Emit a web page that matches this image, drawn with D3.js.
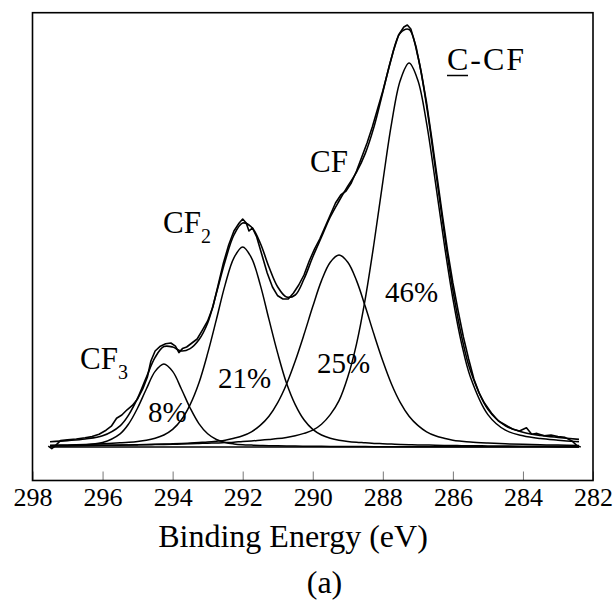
<!DOCTYPE html>
<html>
<head>
<meta charset="utf-8">
<script src="https://cdn.jsdelivr.net/npm/d3@7"></script>
<style>
body { margin: 0; background: #fff; }
text { font-family: "Liberation Serif", "Times New Roman", serif; fill: #000; }
</style>
</head>
<body>
<svg id="chart" width="615" height="601"></svg>
<script>
// binding energy grid (eV) used for the fitted curves
var energy = [297.5, 297.0, 296.5, 296.0, 295.5, 295.25, 295.0, 294.75, 294.5, 294.25, 294.0, 293.75, 293.5, 293.25, 293.0, 292.75, 292.5, 292.25, 292.0, 291.75, 291.5, 291.25, 291.0, 290.75, 290.5, 290.25, 290.0, 289.75, 289.5, 289.25, 289.0, 288.75, 288.5, 288.25, 288.0, 287.75, 287.5, 287.25, 287.0, 286.75, 286.5, 286.25, 286.0, 285.75, 285.5, 285.0, 284.5, 284.0, 283.5, 283.0, 282.4];

// fitted components (arb. units above background)
var compCCF = [0.32, 0.34, 0.37, 0.41, 0.46, 0.5, 0.53, 0.56, 0.6, 0.64, 0.69, 0.74, 0.79, 0.87, 0.96, 1.0, 1.1, 1.2, 1.4, 1.5, 1.7, 1.9, 2.1, 2.4, 2.8, 3.4, 4.2, 5.7, 8.1, 11.6, 17.5, 25.8, 37.1, 51.0, 66.3, 80.9, 91.7, 96.0, 91.7, 80.9, 66.3, 51.0, 37.1, 25.8, 17.5, 8.1, 4.2, 2.8, 2.1, 1.7, 1.3];
var compCF = [0.27, 0.31, 0.36, 0.41, 0.48, 0.51, 0.55, 0.62, 0.68, 0.74, 0.8, 0.88, 1.0, 1.13, 1.25, 1.45, 1.7, 2.2, 2.8, 3.8, 5.4, 7.7, 11.1, 15.7, 21.5, 28.1, 35.1, 41.6, 46.2, 48.0, 46.2, 41.6, 35.1, 28.1, 21.5, 15.7, 11.1, 7.7, 5.4, 3.8, 2.8, 2.2, 1.7, 1.45, 1.25, 1.0, 0.8, 0.68, 0.55, 0.48, 0.4];
var compCF2 = [0.45, 0.53, 0.65, 0.82, 1.06, 1.2, 1.4, 1.7, 2.2, 3.0, 4.4, 6.8, 10.6, 16.0, 23.4, 31.9, 40.6, 47.3, 50.0, 47.3, 40.6, 31.9, 23.4, 16.0, 10.6, 6.8, 4.4, 3.0, 2.2, 1.7, 1.4, 1.2, 1.06, 0.9, 0.82, 0.73, 0.65, 0.58, 0.53, 0.49, 0.45, 0.4, 0.37, 0.34, 0.32, 0.27, 0.24, 0.21, 0.19, 0.17, 0.15];
var compCF3 = [0.3, 0.4, 0.58, 1.12, 3.3, 5.85, 9.75, 14.5, 18.9, 20.75, 18.9, 14.5, 9.75, 5.85, 3.3, 1.87, 1.12, 0.77, 0.58, 0.48, 0.4, 0.34, 0.3, 0.25, 0.22, 0.2, 0.17, 0.16, 0.14, 0.12, 0.11, 0.1, 0.1, 0.09, 0.09, 0.08, 0.08, 0.07, 0.07, 0.07, 0.06, 0.06, 0.06, 0.05, 0.05, 0.05, 0.04, 0.04, 0.04, 0.03, 0.03];
var envelope = [1.3, 1.6, 2.0, 2.8, 5.3, 8.1, 12.2, 17.4, 22.4, 25.1, 25.0, 24.0, 24.6, 26.8, 31.0, 38.5, 46.5, 53.0, 56.0, 55.0, 51.0, 45.0, 40.0, 37.5, 38.0, 42.0, 47.5, 52.5, 57.5, 61.5, 65.2, 68.7, 73.4, 80.1, 88.7, 97.4, 103.5, 104.4, 97.7, 85.3, 69.6, 53.7, 39.2, 27.6, 19.1, 9.4, 5.3, 3.7, 2.9, 2.4, 1.9];

// measured spectrum
var measuredE = [297.55, 297.45, 297.35, 297.2, 297.0, 296.75, 296.5, 296.3, 296.1, 295.9, 295.75, 295.6, 295.45, 295.3, 295.15, 295.0, 294.85, 294.72, 294.62, 294.5, 294.35, 294.2, 294.05, 293.92, 293.82, 293.72, 293.6, 293.45, 293.3, 293.15, 293.0, 292.85, 292.7, 292.55, 292.4, 292.25, 292.1, 292.0, 291.9, 291.82, 291.72, 291.6, 291.45, 291.3, 291.15, 291.0, 290.85, 290.7, 290.55, 290.4, 290.25, 290.1, 289.95, 289.8, 289.65, 289.5, 289.35, 289.2, 289.05, 288.9, 288.75, 288.6, 288.45, 288.3, 288.15, 288.0, 287.85, 287.7, 287.55, 287.4, 287.3, 287.2, 287.05, 286.9, 286.75, 286.6, 286.45, 286.3, 286.15, 286.0, 285.85, 285.7, 285.55, 285.4, 285.25, 285.1, 284.9, 284.7, 284.5, 284.3, 284.1, 283.9, 283.75, 283.6, 283.4, 283.2, 283.0, 282.8, 282.6, 282.45, 282.35];
var measuredI = [0.2, -0.4, 0.3, 1.6, 1.8, 2.0, 2.3, 2.6, 3.2, 4.2, 5.2, 7.2, 8.0, 9.3, 10.4, 12.0, 14.6, 17.5, 21.5, 24.0, 25.2, 25.8, 26.0, 25.2, 23.6, 24.6, 25.0, 26.0, 27.0, 29.2, 31.5, 35.0, 40.5, 46.0, 50.5, 54.0, 56.0, 57.0, 56.0, 54.0, 54.8, 52.5, 48.0, 43.5, 40.0, 37.8, 37.0, 37.0, 38.5, 40.5, 43.0, 46.5, 49.5, 52.0, 55.0, 58.0, 61.0, 63.0, 64.0, 66.0, 69.0, 72.5, 76.0, 80.0, 84.5, 89.0, 94.0, 99.0, 103.0, 105.0, 105.5, 104.5, 100.0, 93.5, 86.0, 77.0, 67.5, 58.0, 49.0, 41.0, 34.0, 27.5, 22.0, 17.0, 13.5, 11.0, 8.5, 6.5, 5.5, 4.5, 4.0, 4.8, 3.2, 3.4, 2.8, 3.0, 2.6, 2.4, 1.5, 0.3, 0.0];

var baselineE = [297.5, 282.4];
var baselineI = [0, 0];

var xTicks = [298, 296, 294, 292, 290, 288, 286, 284, 282];

var svg = d3.select("#chart");

var x = d3.scaleLinear().domain([298, 282]).range([32.5, 593]);
var y = d3.scaleLinear().domain([-8.375, 108.575]).range([480.5, 12.7]);

function pairs(xs, ys) {
    return xs.map(function(e, i) { return [e, ys[i]]; });
}

var smooth = d3.line()
    .x(function(d) { return x(d[0]); })
    .y(function(d) { return y(d[1]); })
    .curve(d3.curveCatmullRom.alpha(0.5));

var raw = d3.line()
    .x(function(d) { return x(d[0]); })
    .y(function(d) { return y(d[1]); });

// components
[compCF3, compCF2, compCF, compCCF].forEach(function(c) {
    svg.append("path")
        .attr("d", smooth(pairs(energy, c)))
        .attr("fill", "none")
        .attr("stroke", "#000")
        .attr("stroke-width", 1.5);
});

svg.append("path")
    .attr("d", raw(pairs(baselineE, baselineI)))
    .attr("fill", "none")
    .attr("stroke", "#000")
    .attr("stroke-width", 1.5);

svg.append("path")
    .attr("d", smooth(pairs(energy, envelope)))
    .attr("fill", "none")
    .attr("stroke", "#000")
    .attr("stroke-width", 1.6);

svg.append("path")
    .attr("d", raw(pairs(measuredE, measuredI)))
    .attr("fill", "none")
    .attr("stroke", "#000")
    .attr("stroke-width", 1.6)
    .attr("stroke-linejoin", "round");

// x axis: inward ticks, labels below
var xAxis = d3.axisBottom(x)
    .tickValues(xTicks)
    .tickSize(-9)
    .tickPadding(7)
    .tickFormat(d3.format("d"));

var gx = svg.append("g")
    .attr("transform", "translate(0," + y.range()[0] + ")")
    .call(xAxis);
gx.select(".domain").remove();
gx.selectAll(".tick line").attr("stroke", "#777").attr("stroke-width", 1);
gx.selectAll(".tick text")
    .style("font-family", '"Liberation Serif", "Times New Roman", serif')
    .style("font-size", "26px")
    .attr("fill", "#000");

// frame
svg.append("rect")
    .attr("x", x.range()[0])
    .attr("y", y.range()[1])
    .attr("width", x.range()[1] - x.range()[0])
    .attr("height", y.range()[0] - y.range()[1])
    .attr("fill", "none")
    .attr("stroke", "#000")
    .attr("stroke-width", 1.6);

svg.append("text")
    .attr("x", 293).attr("y", 547)
    .attr("text-anchor", "middle")
    .style("font-size", "32px")
    .text("Binding Energy (eV)");

svg.append("text")
    .attr("x", 324.5).attr("y", 593)
    .attr("text-anchor", "middle")
    .style("font-size", "32px")
    .text("(a)");

// peak labels
function label(tx, ty, main, sub, size) {
    var t = svg.append("text").attr("x", tx).attr("y", ty).style("font-size", size + "px");
    t.append("tspan").text(main);
    if (sub) {
        t.append("tspan").attr("dy", 10).style("font-size", "20px").text(sub);
    }
    return t;
}

label(80, 369, "CF", "3", 31);
label(163, 233, "CF", "2", 31);
label(310, 172, "CF", null, 31);
label(447, 70, "C-CF", null, 32).style("letter-spacing", "2px");
svg.append("line")
    .attr("x1", 447).attr("x2", 468)
    .attr("y1", 75.5).attr("y2", 75.5)
    .attr("stroke", "#000").attr("stroke-width", 1.5);

label(148, 422, "8%", null, 29);
label(218, 388, "21%", null, 29);
label(317, 373, "25%", null, 29);
label(385, 302, "46%", null, 29);
</script>
</body>
</html>
